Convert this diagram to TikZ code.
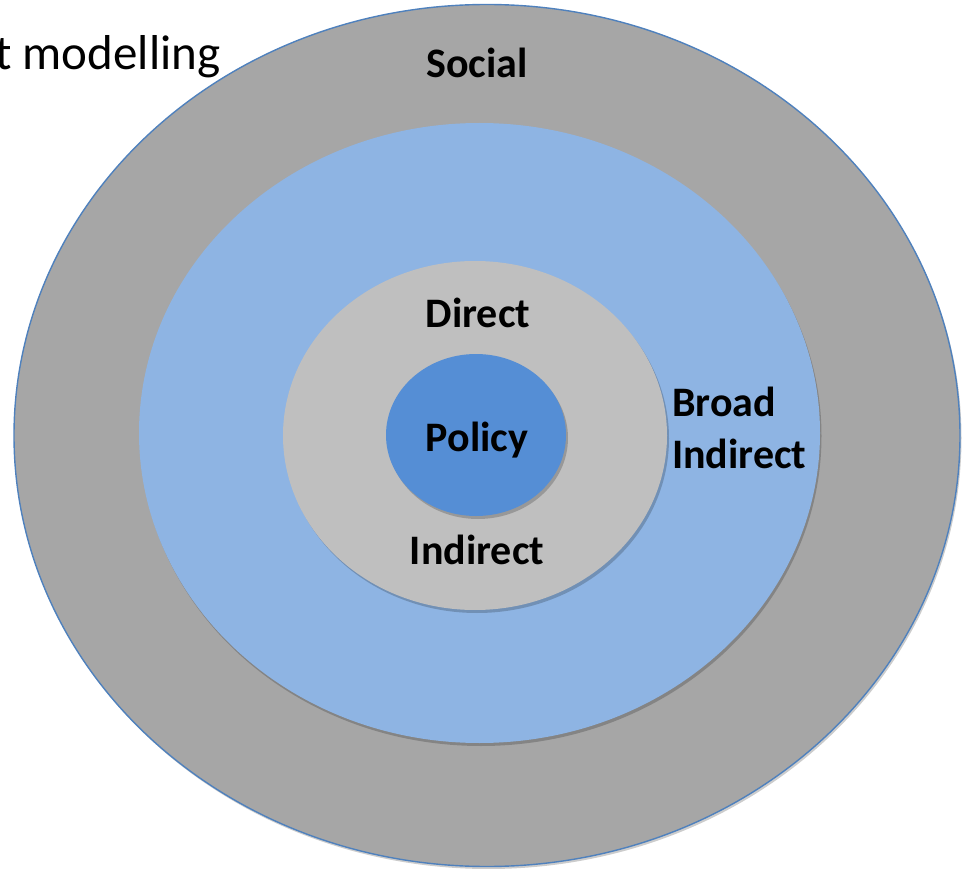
\documentclass[tikz,border=0pt]{standalone}
\usepackage{fontspec}
\setmainfont{Carlito}
\usetikzlibrary{shapes.geometric}
\definecolor{outergray}{HTML}{A6A6A6}
\definecolor{broadblue}{HTML}{8EB4E3}
\definecolor{innergray}{HTML}{BFBFBF}
\definecolor{policyblue}{HTML}{558ED5}
\definecolor{rimblue}{HTML}{4F81BD}
\tikzset{
  ring/.style={ellipse, inner sep=0pt, outer sep=0pt},
  shade/.style={ellipse, inner sep=0pt, fill=black, fill opacity=0.2, draw=none},
  lbl/.style={font=\bfseries\fontsize{42}{52}\selectfont, text=black, inner sep=0pt},
}
\begin{document}
\begin{tikzpicture}[x=1pt,y=-1pt]
\useasboundingbox (0,0) rectangle (962,869);
% outer ring
\node[shade, minimum width=946pt, minimum height=862pt] (outershadow) at (488.5,438) {};
\node[ring, fill=outergray, draw=rimblue, line width=1.4pt, minimum width=946pt, minimum height=862pt] (outer) at (487,435.5) {};
% broad ring
\node[shade, minimum width=681pt, minimum height=620pt] (broadshadow) at (481,436) {};
\node[ring, fill=broadblue, minimum width=681pt, minimum height=620pt] (broad) at (479.5,433) {};
% inner ring
\node[shade, minimum width=384pt, minimum height=349pt] (innershadow) at (477,438.5) {};
\node[ring, fill=innergray, minimum width=384pt, minimum height=349pt] (inner) at (475,435.5) {};
% policy
\node[shade, minimum width=180pt, minimum height=162pt] (policyshadow) at (478,438) {};
\node[ring, fill=policyblue, minimum width=180pt, minimum height=162pt] (policy) at (476,435) {};
% labels
\node[lbl, anchor=base] (social) at (477,78) {Social};
\node[lbl, anchor=base] (direct) at (478,327) {Direct};
\node[lbl, anchor=base] (policytext) at (477,451) {Policy};
\node[lbl, anchor=base] (indirect) at (477,564) {Indirect};
\node[lbl, anchor=base west] (broadl1) at (672,416) {Broad};
\node[lbl, anchor=base west] (broadl2) at (672,468) {Indirect};
\node[font=\fontsize{49}{58}\selectfont, anchor=base west, inner sep=0pt] (title) at (-5,70) {t modelling};
\end{tikzpicture}
\end{document}
